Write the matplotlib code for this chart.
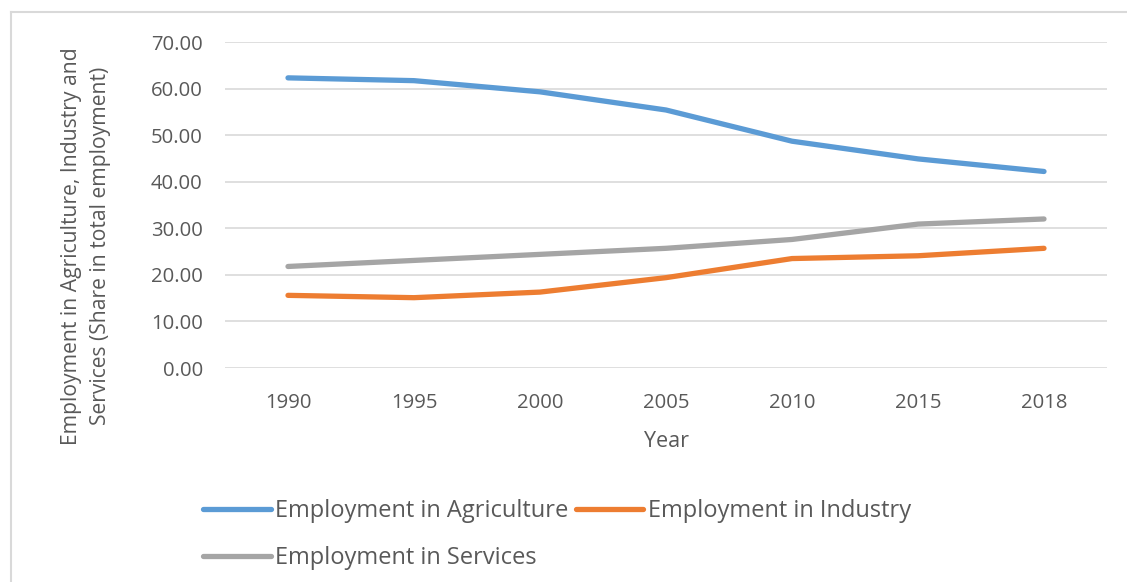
import matplotlib
matplotlib.use("Agg")
import matplotlib.pyplot as plt
from matplotlib.lines import Line2D

plt.rcParams['font.family'] = ['Open Sans', 'DejaVu Sans']

years = ['1990', '1995', '2000', '2005', '2010', '2015', '2018']
agriculture = [62.3, 61.7, 59.3, 55.4, 48.7, 44.9, 42.2]
industry = [15.6, 15.1, 16.3, 19.4, 23.5, 24.1, 25.7]
services = [21.8, 23.1, 24.4, 25.7, 27.6, 30.9, 32.0]

c_agri = '#5B9BD5'
c_ind = '#ED7D31'
c_serv = '#A5A5A5'
txt = '#595959'

fig = plt.figure(figsize=(11.27, 5.82), dpi=100)
W, H = 1127, 582
ax = fig.add_axes([225 / W, 1 - 368 / H, (1107 - 225) / W, (368 - 42) / H])

x = range(len(years))
lw = 3.8
l_agri, = ax.plot(x, agriculture, color=c_agri, lw=lw, solid_capstyle='round', solid_joinstyle='round')
l_ind, = ax.plot(x, industry, color=c_ind, lw=lw, solid_capstyle='round', solid_joinstyle='round')
l_serv, = ax.plot(x, services, color=c_serv, lw=lw, solid_capstyle='round', solid_joinstyle='round')

ax.set_xlim(-0.5, len(years) - 0.5)
ax.set_ylim(0, 70)
ax.set_yticks(range(0, 71, 10))
ax.set_yticklabels(['%.2f' % v for v in range(0, 71, 10)])
ax.set_xticks(list(x))
ax.set_xticklabels(years)
ax.grid(axis='y', color='#D9D9D9', lw=1.2)
ax.set_axisbelow(True)
for s in ax.spines.values():
    s.set_visible(False)
ax.tick_params(length=0, labelsize=14.6, colors=txt)
ax.tick_params(axis='y', pad=16)
ax.tick_params(axis='x', pad=18)

ax.set_xlabel('Year', fontsize=15.5, color=txt, labelpad=13)
fig.text(86 / W, 1 - 246 / H,
         'Employment in Agriculture, Industry and\nServices (Share in total employment)',
         rotation=90, ha='center', va='center', fontsize=15.2, color=txt,
         linespacing=1.55)

# legend: column-major fill puts services under agriculture
leg = fig.legend([l_agri, l_serv, l_ind],
                 ['Employment in Agriculture', 'Employment in Services', 'Employment in Industry'],
                 ncol=2, loc='upper left', bbox_to_anchor=(194 / W, 1 - 490 / H),
                 frameon=False, fontsize=17, handlelength=2.85, handletextpad=0.2,
                 columnspacing=0.3, labelspacing=0.95, borderaxespad=0)
for t in leg.get_texts():
    t.set_color(txt)

# outer chart border (top and left edges visible)
fig.add_artist(Line2D([11 / W, 1], [1 - 12 / H, 1 - 12 / H], color='#D9D9D9', lw=1.5))
fig.add_artist(Line2D([11 / W, 11 / W], [0, 1 - 12 / H], color='#D9D9D9', lw=1.5))

fig.savefig('out.png', dpi=100, facecolor='white')
